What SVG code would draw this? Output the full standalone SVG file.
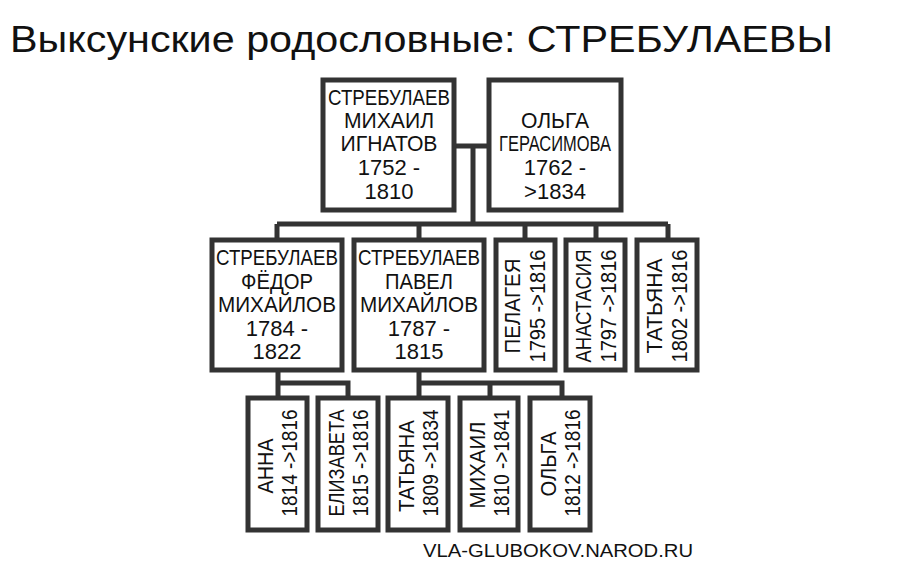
<svg xmlns="http://www.w3.org/2000/svg" width="921" height="577" viewBox="0 0 921 577">
<style>
.b{fill:#fff;stroke:#333;stroke-width:5}
.c{fill:none;stroke:#333;stroke-width:5}
text{font-family:"Liberation Sans",Arial,sans-serif;fill:#111}
.t{font-size:22px;text-anchor:middle}
.v{font-size:22px;text-anchor:middle}
</style>
<rect width="921" height="577" fill="#fff"/>
<text x="10" y="52" style="font-size:37px" textLength="823" lengthAdjust="spacingAndGlyphs">Выксунские родословные: СТРЕБУЛАЕВЫ</text>
<text x="423" y="557" style="font-size:19px" textLength="270" lengthAdjust="spacingAndGlyphs">VLA-GLUBOKOV.NAROD.RU</text>
<g id="connectors">
<path class="c" d="M454 146H489M473 146V224M277 224H668M277 224V240M419 224V240M525 224V240M596 224V240M668 224V240"/>
<path class="c" d="M278 370V383H348V398M278 383V398M419 370V383H562V398M419 383V398M490 383V398"/>
</g>
<g id="n1"><rect class="b" x="323" y="80" width="131" height="130"/>
<text class="t" x="389" y="105" textLength="122" lengthAdjust="spacingAndGlyphs">СТРЕБУЛАЕВ</text>
<text class="t" x="389" y="128" textLength="90" lengthAdjust="spacingAndGlyphs">МИХАИЛ</text>
<text class="t" x="389" y="151" textLength="97" lengthAdjust="spacingAndGlyphs">ИГНАТОВ</text>
<text class="t" x="389" y="175">1752 -</text><text class="t" x="389" y="199">1810</text></g>
<g id="n2"><rect class="b" x="489" y="80" width="132" height="130"/>
<text class="t" x="555" y="128" textLength="68" lengthAdjust="spacingAndGlyphs">ОЛЬГА</text>
<text class="t" x="555" y="151" textLength="112" lengthAdjust="spacingAndGlyphs">ГЕРАСИМОВА</text>
<text class="t" x="555" y="175">1762 -</text><text class="t" x="555" y="199">&gt;1834</text></g>
<g id="n3"><rect class="b" x="212" y="240" width="130" height="130"/>
<text class="t" x="277" y="265" textLength="122" lengthAdjust="spacingAndGlyphs">СТРЕБУЛАЕВ</text>
<text class="t" x="277" y="289" textLength="72" lengthAdjust="spacingAndGlyphs">ФЁДОР</text>
<text class="t" x="277" y="312" textLength="118" lengthAdjust="spacingAndGlyphs">МИХАЙЛОВ</text>
<text class="t" x="277" y="336">1784 -</text><text class="t" x="277" y="359">1822</text></g>
<g id="n4"><rect class="b" x="354" y="240" width="130" height="130"/>
<text class="t" x="419" y="265" textLength="122" lengthAdjust="spacingAndGlyphs">СТРЕБУЛАЕВ</text>
<text class="t" x="419" y="289" textLength="68" lengthAdjust="spacingAndGlyphs">ПАВЕЛ</text>
<text class="t" x="419" y="312" textLength="118" lengthAdjust="spacingAndGlyphs">МИХАЙЛОВ</text>
<text class="t" x="419" y="336">1787 -</text><text class="t" x="419" y="359">1815</text></g>
<g id="n5"><rect class="b" x="496" y="240" width="59" height="130"/>
<text class="v" transform="translate(512,306) rotate(-90)" y="8" textLength="95" lengthAdjust="spacingAndGlyphs">ПЕЛАГЕЯ</text>
<text class="v" transform="translate(537,306) rotate(-90)" y="8" textLength="113" lengthAdjust="spacingAndGlyphs">1795 -&gt;1816</text></g>
<g id="n6"><rect class="b" x="566" y="240" width="59" height="130"/>
<text class="v" transform="translate(583,306) rotate(-90)" y="8" textLength="113" lengthAdjust="spacingAndGlyphs">АНАСТАСИЯ</text>
<text class="v" transform="translate(608,306) rotate(-90)" y="8" textLength="113" lengthAdjust="spacingAndGlyphs">1797 -&gt;1816</text></g>
<g id="n7"><rect class="b" x="637" y="240" width="60" height="130"/>
<text class="v" transform="translate(654,306) rotate(-90)" y="8" textLength="95" lengthAdjust="spacingAndGlyphs">ТАТЬЯНА</text>
<text class="v" transform="translate(679,306) rotate(-90)" y="8" textLength="113" lengthAdjust="spacingAndGlyphs">1802 -&gt;1816</text></g>
<g id="n8"><rect class="b" x="248" y="398" width="59" height="132"/>
<text class="v" transform="translate(265,466) rotate(-90)" y="8" textLength="55" lengthAdjust="spacingAndGlyphs">АННА</text>
<text class="v" transform="translate(289,463) rotate(-90)" y="8" textLength="107" lengthAdjust="spacingAndGlyphs">1814 -&gt;1816</text></g>
<g id="n9"><rect class="b" x="318" y="398" width="60" height="132"/>
<text class="v" transform="translate(336,463) rotate(-90)" y="8" textLength="107" lengthAdjust="spacingAndGlyphs">ЕЛИЗАВЕТА</text>
<text class="v" transform="translate(360,463) rotate(-90)" y="8" textLength="107" lengthAdjust="spacingAndGlyphs">1815 -&gt;1816</text></g>
<g id="n10"><rect class="b" x="388" y="398" width="60" height="132"/>
<text class="v" transform="translate(406,466) rotate(-90)" y="8" textLength="92" lengthAdjust="spacingAndGlyphs">ТАТЬЯНА</text>
<text class="v" transform="translate(430,463) rotate(-90)" y="8" textLength="107" lengthAdjust="spacingAndGlyphs">1809 -&gt;1834</text></g>
<g id="n11"><rect class="b" x="460" y="398" width="58" height="132"/>
<text class="v" transform="translate(477,465) rotate(-90)" y="8" textLength="87" lengthAdjust="spacingAndGlyphs">МИХАИЛ</text>
<text class="v" transform="translate(501,463) rotate(-90)" y="8" textLength="107" lengthAdjust="spacingAndGlyphs">1810 -&gt;1841</text></g>
<g id="n12"><rect class="b" x="530" y="398" width="60" height="132"/>
<text class="v" transform="translate(548,464) rotate(-90)" y="8" textLength="65" lengthAdjust="spacingAndGlyphs">ОЛЬГА</text>
<text class="v" transform="translate(572,463) rotate(-90)" y="8" textLength="107" lengthAdjust="spacingAndGlyphs">1812 -&gt;1816</text></g>
</svg>
